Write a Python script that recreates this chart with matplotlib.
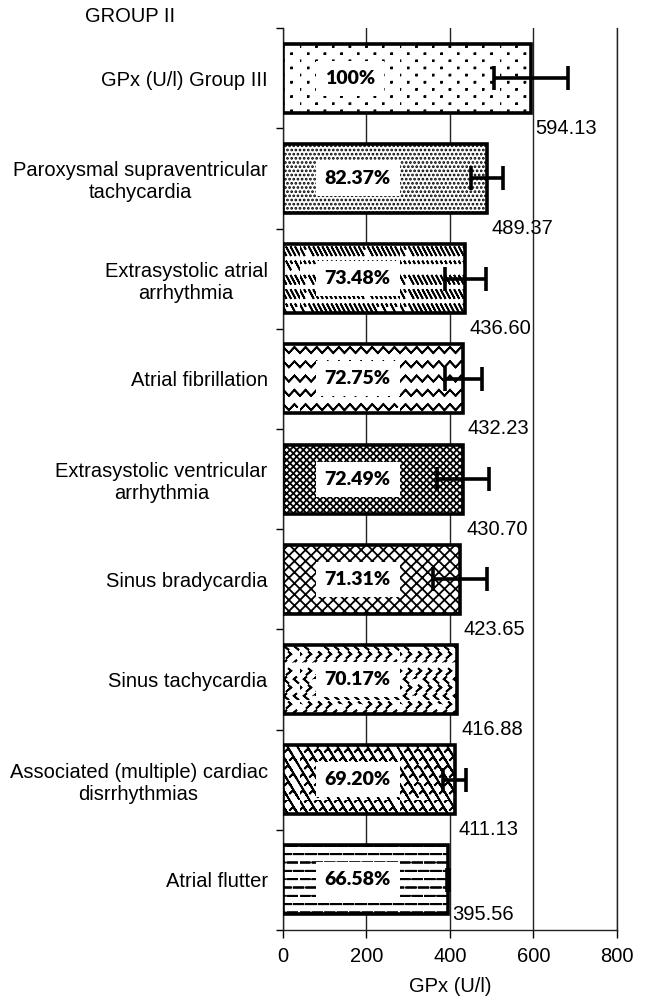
import numpy as np
import matplotlib
matplotlib.use('Agg')
import matplotlib.pyplot as plt
import matplotlib.hatch as mhatch
from matplotlib.path import Path
import warnings

warnings.filterwarnings('ignore')

categories = ['GPx (U/l) Group III',
              'Paroxysmal supraventricular\ntachycardia',
              'Extrasystolic atrial\narrhythmia',
              'Atrial fibrillation',
              'Extrasystolic ventricular\narrhythmia',
              'Sinus bradycardia',
              'Sinus tachycardia',
              'Associated (multiple) cardiac\ndisrrhythmias',
              'Atrial flutter']
values = [594.13, 489.37, 436.60, 432.23, 430.70, 423.65, 416.88, 411.13, 395.56]
errors = [88, 38, 49, 44, 62, 64, 0, 27, 3]
percents = ['100%', '82.37%', '73.48%', '72.75%', '72.49%', '71.31%', '70.17%', '69.20%', '66.58%']
xticks = [0, 200, 400, 600, 800]


# extra hatch shapes (agg fills hatch paths, so open strokes go out and back)
def stroke(pts):
    pts = list(pts)
    return pts + pts[-2::-1]


class CustomHatch(mhatch.HatchPatternBase):
    char = ''

    def __init__(self, hatch, density):
        self.lines = self.build() if self.char in hatch else []
        self.num_vertices = sum(len(l) for l in self.lines)

    def set_vertices_and_codes(self, vertices, codes):
        k = 0
        for l in self.lines:
            n = len(l)
            vertices[k:k + n] = l
            codes[k] = Path.MOVETO
            codes[k + 1:k + n] = Path.LINETO
            k += n


class ZigZag(CustomHatch):
    char = 'z'

    def build(self):
        rows, teeth = 7, 9
        xs = np.linspace(0, 1, teeth * 2 + 1)
        out = []
        for r in range(rows):
            y0 = (r + 0.5) / rows
            ys = y0 + np.where(np.arange(len(xs)) % 2 == 0, -0.03, 0.03)
            out.append(stroke(zip(xs, ys)))
        return out


class Chevrons(CustomHatch):
    char = 'c'

    def build(self):
        cols, rows = 10, 12
        out = []
        for j in range(rows):
            d = 1 if j % 2 == 0 else -1
            off = 0.5 if j % 2 else 0.0
            for i in range(cols):
                cx = (i + 0.5 + off) / cols % 1.0
                cy = (j + 0.5) / rows
                w, h = 0.012, 0.02
                out.append(stroke([(cx + d * w, cy + h), (cx - d * w, cy), (cx + d * w, cy - h)]))
        return out


class Dashes(CustomHatch):
    char = 'd'

    def build(self):
        rows, segs = 12, 8
        out = []
        for r in range(rows):
            y = (r + 0.5) / rows
            off = 0.5 if r % 2 else 0.0
            for s in range(segs):
                x0 = (s + off) / segs
                x1 = x0 + 0.55 / segs
                if x1 <= 1:
                    out.append(stroke([(x0, y), (x1, y)]))
                else:
                    out.append(stroke([(x0, y), (1.0, y)]))
                    out.append(stroke([(0.0, y), (x1 - 1, y)]))
        return out


class DashDiag(CustomHatch):
    char = 'b'

    def build(self):
        rows, cols = 7, 22
        out = []
        for r in range(rows):
            y0 = (r + 0.5) / rows
            for c in range(cols):
                x0 = c / cols
                out.append(stroke([(x0, y0 + 0.028), (x0 + 0.03, y0 - 0.028)]))
        return out


class Shingle(CustomHatch):
    char = 's'

    def build(self):
        rows, cols = 12, 10
        w, h = 1.0 / cols, 1.0 / rows
        out = []
        for r in range(rows):
            off = 0.5 if r % 2 else 0.0
            for c in range(cols):
                x0 = (c + off) * w
                y0 = r * h
                pts = [(x0, y0 + 0.8 * h), (x0 + 0.25 * w, y0 + 1.1 * h), (x0 + 0.5 * w, y0 + 0.9 * h),
                       (x0 + 1.0 * w, y0 - 0.1 * h)]
                if x0 + w > 1:
                    pts = [(x - 1, y) for x, y in pts]
                out.append(stroke(pts))
        return out


class TinyDots(CustomHatch):
    char = 'p'

    def build(self):
        cols, rows = 6, 14
        s = 0.004
        out = []
        for r in range(rows):
            off = 0.5 if r % 2 else 0.0
            for c in range(cols):
                cx = (c + 0.5 + off) / cols % 1.0
                cy = (r + 0.5) / rows
                out.append([(cx - s, cy - s), (cx + s, cy - s), (cx + s, cy + s), (cx - s, cy + s), (cx - s, cy - s)])
        return out


mhatch._hatch_types.extend([ZigZag, Chevrons, Dashes, DashDiag, Shingle, TinyDots])

hatches = ['p', '....', 'b', 'z', 'xxxxx', 'xxx', 'c', 's', 'd']

plt.rcParams['font.family'] = ['Liberation Sans', 'DejaVu Sans']
plt.rcParams['hatch.linewidth'] = 1.3

fig = plt.figure(figsize=(6.46, 10.05), dpi=100)
ax = fig.add_axes([0.438, 0.0746, 0.517, 0.8974])

pos = np.arange(len(categories))
for p, v, h in zip(pos, values, hatches):
    ax.barh(p, v, height=0.69, color='white', edgecolor='black', linewidth=2.6, hatch=h, zorder=3)

err = np.array(errors, dtype=float)
mask = err > 0
ax.errorbar(np.array(values)[mask], pos[mask], xerr=err[mask], fmt='none', ecolor='black',
            elinewidth=2.6, capsize=8.5, capthick=2.6, zorder=5)

for p, t in zip(pos, percents):
    ax.text(100, p, t, ha='left', va='center', fontsize=14, fontweight='heavy',
            family=['Lato', 'DejaVu Sans'],
            zorder=6, bbox=dict(facecolor='white', edgecolor='none', pad=6.5))

for p, v in zip(pos, values):
    ax.text(v + 10, min(p + 0.5, len(categories) - 0.65), '{:.2f}'.format(v), ha='left', va='center',
            fontsize=14.5, zorder=6)

ax.set_xlim(0, 800)
ax.set_ylim(len(categories) - 0.5, -0.5)
ax.set_xticks(xticks)
ax.set_xticklabels([str(x) for x in xticks], fontsize=14.5)
ax.set_yticks(np.arange(len(categories) + 1) - 0.5)
ax.set_yticklabels([])
ax.set_yticks(pos, minor=True)
ax.set_yticklabels(categories, minor=True, fontsize=14.5, multialignment='center')
ax.tick_params(axis='y', which='minor', length=0, pad=11)
ax.tick_params(axis='y', which='major', length=5, width=1)
ax.tick_params(axis='x', length=6, width=1, pad=6)

ax.grid(axis='x', color='#222222', linewidth=1, zorder=0)
ax.set_axisbelow(True)
ax.spines['top'].set_visible(False)
for s in ['left', 'bottom', 'right']:
    ax.spines[s].set_linewidth(1)
    ax.spines[s].set_color('#222222')

ax.set_xlabel('GPx (U/l)', fontsize=14.5, labelpad=8)
fig.text(0.132, 0.984, 'GROUP II', ha='left', va='center', fontsize=14.5)

fig.savefig('out.png', dpi=100)
